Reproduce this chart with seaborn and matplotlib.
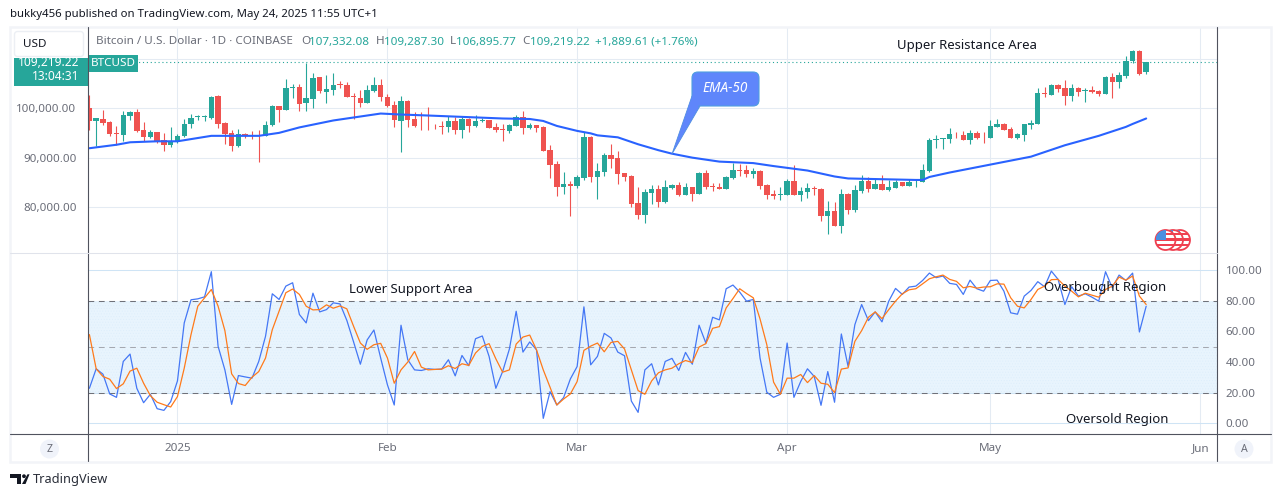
import numpy as np
import pandas as pd
import matplotlib
matplotlib.use("Agg")
import matplotlib.pyplot as plt
import seaborn as sns
from matplotlib.patches import Rectangle, Circle, FancyBboxPatch, Polygon

# ---------- data (prices in thousands of USD) ----------
first_day = "2024-12-19"
last_day = "2025-05-24"
opens = [100.0,97.3,97.8,97.2,95.0,94.6,98.5,99.3,95.6,94.1,
95.2,93.6,92.5,93.1,94.3,96.7,98.2,98.2,98.0,102.4,
97.0,95.0,92.4,94.8,94.5,94.5,94.4,96.5,100.5,99.7,
104.0,104.3,101.1,101.9,106.2,103.3,103.7,104.8,104.7,102.4,
102.1,101.1,103.4,104.7,102.2,100.7,97.4,101.5,97.8,96.6,
96.6,96.6,96.3,96.2,97.4,95.6,97.8,96.4,97.4,97.6,
96.2,95.7,95.4,96.4,98.2,96.0,96.6,96.2,91.5,88.7,
84.1,84.7,84.3,85.9,94.1,86.1,87.1,90.5,89.9,86.9,
86.3,80.8,78.4,82.8,83.6,81.0,83.8,84.5,82.4,84.1,
82.6,86.9,84.3,84.1,83.6,85.9,87.5,87.5,86.7,87.3,
84.5,82.6,82.5,82.4,85.3,82.4,83.0,83.8,83.6,78.2,
79.2,76.2,82.6,79.4,83.3,85.3,83.7,84.7,83.5,83.9,
85.1,84.3,85.2,85.1,87.4,93.5,93.7,93.8,94.8,94.6,
93.6,95.0,94.2,94.0,96.2,96.8,95.8,94.0,94.6,96.6,
96.8,103.1,102.7,104.7,104.1,102.5,104.1,103.4,103.7,103.5,
102.9,106.3,105.3,106.5,109.4,111.6,107.33]
highs = [102.7,98.0,99.7,97.4,96.4,99.4,99.5,99.8,97.2,95.6,
95.2,95.0,96.2,94.8,97.8,98.8,98.7,98.7,102.4,102.6,
97.2,95.5,95.8,95.0,95.4,95.5,97.4,100.6,100.5,105.9,
104.8,104.8,109.1,107.1,106.3,106.7,107.1,105.4,105.3,103.1,
103.7,104.7,106.3,105.9,102.8,101.5,102.5,101.7,99.3,99.3,
100.3,96.8,97.4,98.4,98.3,98.3,98.1,98.7,98.1,97.6,
96.9,96.7,96.8,98.7,99.4,96.9,96.6,96.4,92.5,89.3,
87.1,85.3,86.4,95.2,94.3,88.9,90.9,92.7,91.3,86.9,
86.4,84.1,83.6,84.5,84.5,85.5,84.7,85.1,84.9,84.1,
87.1,87.5,84.9,84.9,86.3,88.9,88.7,88.5,87.9,87.5,
84.7,83.4,84.1,85.7,88.5,84.1,84.9,84.3,83.8,81.2,
81.0,83.6,82.8,84.5,86.5,86.1,85.9,86.5,85.5,85.5,
85.1,85.7,85.5,88.8,94.0,94.6,94.0,96.0,95.2,95.4,
95.6,95.4,95.2,97.6,97.8,97.0,96.2,95.0,96.8,97.6,
104.1,104.3,104.9,104.9,105.7,104.9,104.3,104.1,104.5,103.7,
106.5,107.1,107.3,110.6,111.8,111.8,109.29]
lows = [95.6,92.3,96.5,94.3,92.5,93.4,97.6,95.1,93.3,93.9,
92.9,91.4,92.1,92.9,94.2,96.0,97.5,97.3,97.8,96.0,
92.7,91.3,92.2,93.9,93.7,89.2,94.3,96.4,97.2,99.7,
102.1,99.5,99.5,100.0,103.1,101.1,102.7,104.0,102.3,97.8,
100.2,101.1,103.3,101.5,100.3,96.2,91.2,96.2,96.1,95.6,
95.6,95.7,94.8,95.1,94.8,93.9,95.2,96.2,97.2,96.0,
95.2,93.3,95.0,96.4,94.8,95.8,95.2,91.3,85.9,82.2,
82.6,78.2,83.8,85.5,85.1,81.6,86.3,87.9,84.7,85.3,
80.0,77.6,76.8,80.6,80.0,80.8,83.6,82.2,82.4,81.2,
82.6,83.6,83.2,83.6,83.6,85.7,86.3,86.1,85.9,83.6,
81.6,81.6,81.4,82.4,82.4,81.2,81.8,82.4,77.2,74.6,
76.2,74.8,78.6,79.0,82.9,83.1,83.7,83.5,83.3,83.9,
84.3,84.3,84.1,85.1,87.1,92.0,91.8,93.0,94.0,93.6,
92.8,93.8,93.0,94.0,96.2,95.6,94.0,93.8,93.4,95.8,
96.8,102.3,102.7,103.3,100.7,101.5,102.5,101.3,103.1,102.5,
102.9,102.1,104.1,106.1,109.0,106.7,106.90]
closes = [97.3,97.9,97.0,94.8,94.7,98.6,99.3,95.4,94.1,95.2,
93.3,92.5,93.3,94.4,96.8,98.0,98.3,98.3,102.3,96.8,
94.8,92.4,94.8,94.6,94.4,94.4,96.6,100.5,99.7,104.1,
104.3,100.9,102.1,106.1,103.5,103.9,104.7,104.6,102.3,102.2,
101.1,103.7,104.7,102.2,100.5,97.5,101.5,97.6,96.4,96.5,
96.5,96.5,96.2,97.4,95.6,97.8,96.4,97.4,97.6,96.0,
95.6,95.6,96.6,98.2,96.0,96.5,96.0,91.3,88.5,84.1,
84.7,84.3,86.1,94.1,86.1,87.3,90.5,89.7,86.7,86.1,
80.6,78.4,83.0,83.6,81.0,84.1,84.5,82.4,84.1,82.6,
86.9,84.1,84.1,83.6,86.1,87.5,87.3,86.7,87.3,84.3,
82.4,82.2,82.6,85.3,82.4,83.2,83.8,83.6,78.2,79.2,
76.2,82.6,79.4,83.4,85.3,83.7,84.7,83.5,84.1,85.1,
84.3,85.1,85.3,87.6,93.6,93.8,94.0,94.8,94.7,93.6,
95.0,94.0,94.1,96.4,96.8,95.6,94.0,94.8,96.8,97.0,
103.1,102.9,104.7,103.9,102.5,104.1,103.3,103.7,103.3,102.9,
106.3,105.3,106.7,109.6,111.6,106.9,109.22]

# EMA-50 read at the days where it can be read clearly (day number from first_day)
ema_days = [0,4,6,10,13,18,22,25,28,31,36,39,43,46,50,61,65,67,69,72,74,75,78,81,84,86,89,93,98,
            101,106,110,112,122,123,124,127,133,139,144,149,153,154,156]
ema_vals = [91.9,92.6,93.1,93.3,93.3,94.4,94.4,94.4,95.0,96.1,97.5,98.1,98.9,98.7,98.5,97.9,97.8,97.4,96.4,
            95.4,94.9,94.5,94.1,92.7,91.5,90.8,90.0,89.2,88.9,88.3,87.4,86.2,85.8,85.5,85.5,86.1,87.0,88.6,
            90.2,92.5,94.4,96.2,96.8,97.9]

rsi = [22.9,35.6,32.1,19.2,17.0,40.4,45.2,22.9,13.5,19.0,
9.6,8.5,14.2,27.7,65.5,80.6,81.2,82.5,98.9,50.2,
34.9,12.4,31.2,30.3,29.5,40.4,56.8,84.5,80.8,89.5,
91.7,71.0,65.5,84.9,72.7,74.2,78.6,77.9,67.2,53.1,
38.6,54.4,60.9,42.6,25.1,12.0,64.0,41.5,34.9,34.5,
35.6,35.2,35.4,41.5,31.0,44.3,37.6,55.2,57.0,43.7,
22.9,33.8,48.5,73.1,46.5,53.1,48.0,3.3,20.7,12.0,
16.8,29.0,37.1,76.0,38.2,43.7,58.7,55.7,46.5,44.1,
14.6,7.2,34.9,38.9,25.1,40.4,42.4,34.5,46.3,38.6,
64.0,52.4,69.2,67.5,87.8,90.2,85.6,79.7,80.8,42.6,
20.3,17.0,19.0,52.4,17.0,27.3,35.6,30.6,11.8,33.8,
13.8,58.3,37.1,64.4,77.5,67.0,72.7,66.2,79.7,88.0,
84.1,88.9,89.5,93.2,98.0,95.0,96.1,91.3,90.6,84.1,
93.4,87.8,86.2,93.2,93.4,86.2,72.1,71.2,83.0,86.7,
92.4,89.1,99.3,93.9,77.5,89.1,83.0,84.5,82.3,79.7,
98.9,88.4,96.7,93.2,98.0,59.6,76.4]
rsi_ma = [57.9,35.6,30.6,28.8,22.7,25.8,34.1,36.0,26.2,18.1,
13.8,12.2,10.7,17.5,36.0,57.9,76.4,81.9,87.3,76.4,
60.5,32.3,26.0,24.7,30.1,33.8,42.6,61.1,73.1,85.2,
87.6,84.1,76.4,74.0,74.2,77.3,75.1,76.6,74.7,63.3,
52.4,48.3,51.3,52.2,42.6,26.2,34.9,40.0,46.9,36.7,
34.9,35.2,35.4,37.6,35.8,38.9,37.8,45.9,50.2,52.0,
42.1,33.4,34.9,51.7,56.3,57.6,48.0,34.9,23.6,12.0,
15.9,19.2,27.3,47.6,50.4,52.4,46.7,52.8,53.5,48.5,
34.9,21.4,19.0,27.7,33.0,34.9,36.0,38.9,41.0,39.7,
49.8,52.0,62.0,63.1,75.3,81.4,87.8,84.7,81.9,68.1,
51.3,26.9,19.0,29.5,29.5,31.9,26.6,31.2,26.2,25.5,
20.1,35.4,36.2,53.5,60.5,69.2,72.7,68.3,74.2,79.7,
84.5,87.1,87.8,91.0,94.3,95.6,96.7,93.9,92.6,88.4,
89.3,88.2,88.9,89.1,91.0,90.8,81.9,76.4,75.3,80.8,
87.3,89.5,93.7,93.9,89.5,86.2,82.5,84.9,83.6,82.3,
87.3,89.5,95.4,93.4,96.1,83.0,77.5]

price_ticks = [80, 90, 100, 110]
price_tick_labels = ["80,000.00", "90,000.00", "100,000.00", ""]
rsi_ticks = [0, 20, 40, 60, 80, 100]
rsi_tick_labels = ["0.00", "20.00", "40.00", "60.00", "80.00", "100.00"]
month_ticks = ["2025-01-01", "2025-02-01", "2025-03-01", "2025-04-01", "2025-05-01", "2025-06-01"]
month_labels = ["2025", "Feb", "Mar", "Apr", "May", "Jun"]
last_close = 109.21922

# ---------- theme ----------
sns.set_theme(style="white")
plt.rcParams["font.family"] = ["Noto Sans", "DejaVu Sans"]
plt.rcParams["hatch.linewidth"] = 0.3
W, H = 1281, 497
UP, DOWN = "#26a69a", "#ef5350"
GRID = "#e4ebf3"
AXIS = "#50535e"
GRAY = "#6a6d78"

fig = plt.figure(figsize=(W / 100, H / 100), dpi=100, facecolor="white")


def pane(x0, y_top, x1, y_bot):
    return fig.add_axes([x0 / W, 1 - y_bot / H, (x1 - x0) / W, (y_bot - y_top) / H])


dates = pd.date_range(first_day, last_day, freq="D")
day0 = dates[0]
xmin = day0 + pd.Timedelta(days=-0.28)
xmax = day0 + pd.Timedelta(days=166.5)
month_pos = pd.to_datetime(month_ticks)

ax = pane(87.5, 27, 1217.3, 253.3)
ar = pane(87.5, 253.3, 1217.3, 434.3)

# ---------- candles ----------
o, h, l, c = map(np.array, (opens, highs, lows, closes))
colors = np.where(c >= o, UP, DOWN)
ax.vlines(dates, l * 1000, h * 1000, colors=colors, linewidth=0.8, zorder=3)
ax.bar(dates, np.maximum(np.abs(c - o), 0.12) * 1000, bottom=np.minimum(o, c) * 1000,
       width=0.8, color=colors, linewidth=0, zorder=4)

ema_df = pd.DataFrame({"date": [day0 + pd.Timedelta(days=d) for d in ema_days],
                       "ema": np.array(ema_vals) * 1000})
sns.lineplot(data=ema_df, x="date", y="ema", color="#2962ff", linewidth=1.5, ax=ax, zorder=5)
ax.axhline(last_close * 1000, color=UP, linestyle=(0, (1, 2.5)), linewidth=0.8, zorder=2)
ax.set_ylim(70700, 116360)
ax.set_yticks([v * 1000 for v in price_ticks])
ax.set_yticklabels(price_tick_labels)
ax.tick_params(axis="y", length=0, pad=8, labelsize=8.3, labelcolor=GRAY)
ax.set_xticks(month_pos)
ax.set_xticklabels([])
ax.tick_params(axis="x", length=0)

# ---------- RSI ----------
ar.axhspan(20, 80, facecolor="#e8f4fd", edgecolor="#dcedfb", hatch="......", linewidth=0, zorder=1)
rsi_df = pd.DataFrame({"date": dates, "rsi": rsi, "ma": rsi_ma})
sns.lineplot(data=rsi_df, x="date", y="rsi", color="#4477f5", linewidth=0.9, ax=ar, zorder=5)
sns.lineplot(data=rsi_df, x="date", y="ma", color="#ff7a1a", linewidth=0.9, ax=ar, zorder=6)
for lv, col in ((80, "#6f7179"), (20, "#6f7179"), (50, "#a5a8b0")):
    ar.axhline(lv, color=col, linestyle=(0, (5.5, 4.5)), linewidth=0.75, zorder=3)
ar.set_ylim(-7.1, 110.9)
ar.yaxis.tick_right()
ar.set_yticks(rsi_ticks)
ar.set_yticklabels(rsi_tick_labels)
ar.tick_params(axis="y", length=0, pad=6, labelsize=8.3, labelcolor=GRAY)
ar.set_xticks(month_pos)
ar.set_xticklabels(month_labels)
ar.tick_params(axis="x", length=0, pad=6, labelsize=8.4, labelcolor=GRAY)

for a in (ax, ar):
    a.set_xlim(xmin, xmax)
    a.set_xlabel("")
    a.set_ylabel("")
    a.grid(True, color=GRID, linewidth=0.75, zorder=0)
    a.set_axisbelow(True)
    for s in a.spines.values():
        s.set_visible(False)
ar.get_yaxis().set_label_position("right")
for gl in ar.get_ygridlines():
    gl.set_color("#cfe4f5")

# ---------- overlay in pixel space ----------
ov = fig.add_axes([0, 0, 1, 1], zorder=20)
ov.set_xlim(0, W)
ov.set_ylim(H, 0)
ov.axis("off")
ov.patch.set_alpha(0)

ov.add_patch(Rectangle((10, 27), 1261, 434.5, fill=False, edgecolor="#f2f4f8", linewidth=1.8))
ov.plot([87.5, 87.5], [27, 461], color=AXIS, lw=0.8)
ov.plot([1217.3, 1217.3], [27, 461], color=AXIS, lw=0.8)
ov.plot([10, 1271], [434.3, 434.3], color=AXIS, lw=0.8)
ov.plot([10, 1217], [253.3, 253.3], color="#e0e3eb", lw=0.75)

TXT = "#131722"
ov.text(10, 15, "bukky456 published on TradingView.com, May 24, 2025 11:55 UTC+1",
        fontsize=8.2, color=TXT, va="center", ha="left")

# price tag and USD button
ov.add_patch(Rectangle((14, 58), 73.5, 28, color=UP, lw=0))
ov.text(79, 63, "109,219.22", color="white", fontsize=8.6, va="center", ha="right")
ov.text(79, 76.5, "13:04:31", color="white", fontsize=8.6, va="center", ha="right")
ov.add_patch(Rectangle((88, 55), 49.5, 17, color=UP, lw=0))
ov.text(113, 63.5, "BTCUSD", color="white", fontsize=8.4, va="center", ha="center")
ov.add_patch(FancyBboxPatch((14.5, 31.5), 69, 25, boxstyle="round,pad=0,rounding_size=3",
                            facecolor="white", edgecolor="#eceff4", linewidth=1))
ov.text(23, 44.5, "USD", color=TXT, fontsize=8.4, va="center", ha="left")

# legend row
ov.text(96, 42, "Bitcoin / U.S. Dollar · 1D · COINBASE", color=GRAY, fontsize=8.4, va="center", ha="left")
for x_, s_, col in ((301, "O", GRAY), (309.5, "107,332.08", UP), (376, "H", GRAY), (384, "109,287.30", UP),
                    (450, "L", GRAY), (456, "106,895.77", UP), (522, "C", GRAY), (530, "109,219.22", UP),
                    (595, "+1,889.61 (+1.76%)", UP)):
    ov.text(x_, 42, s_, color=col, fontsize=8.4, va="center", ha="left")

# annotations
for x_, y_, s_ in ((967, 46, "Upper Resistance Area"), (411, 289, "Lower Support Area"),
                   (1105, 288, "Overbought Region"), (1117, 420, "Oversold Region")):
    ov.text(x_, y_, s_, color=TXT, fontsize=9.5, va="center", ha="center")

# EMA callout
CALL = "#5f86fb"
ov.add_patch(Polygon([(692, 96), (672, 154), (700, 106)], closed=True, facecolor=CALL, edgecolor="#4f8fe0", lw=0.6))
ov.add_patch(FancyBboxPatch((692, 72), 67, 34, boxstyle="round,pad=0,rounding_size=6",
                            facecolor=CALL, edgecolor="#4f9fe0", linewidth=0.8))
ov.add_patch(Polygon([(693, 94), (674, 150), (699, 105)], closed=True, facecolor=CALL, edgecolor="none"))
ov.text(725.5, 88.5, "EMA-50", color="white", fontsize=9.8, style="italic", fontweight="bold", va="center", ha="center")

# flag badges
for cx in (1180, 1173, 1165.5):
    disc = Circle((cx, 240), 10, facecolor="white", edgecolor="#ef4050", linewidth=1.3)
    ov.add_patch(disc)
    for yy in (232.5, 238, 243.5):
        r = Rectangle((cx - 10, yy), 20, 2.6, color="#ef4050", lw=0)
        ov.add_patch(r)
        r.set_clip_path(disc)
    b = Rectangle((cx - 10, 230), 10, 10, color="#4a8fe0", lw=0)
    ov.add_patch(b)
    b.set_clip_path(disc)

# scale buttons
for cx, s_ in ((49.5, "Z"), (1244, "A")):
    ov.add_patch(Circle((cx, 449), 9.5, color="#f0f3fa", lw=0))
    ov.text(cx, 449.5, s_, color=GRAY, fontsize=7.6, va="center", ha="center")

# TradingView logo
ov.add_patch(Polygon([(10, 474.3), (21, 474.3), (21, 484), (16.5, 484), (16.5, 477.8), (10, 477.8)], color="#131722", lw=0))
ov.add_patch(Circle((24, 476.2), 1.9, color="#131722", lw=0))
ov.add_patch(Polygon([(22, 484), (27.5, 474.3), (29.5, 474.3), (25.5, 484)], color="#131722", lw=0))
ov.text(33, 479.5, "TradingView", color="#2a2e39", fontsize=9.2, va="center", ha="left")

fig.canvas.draw()
for lbl in ar.get_xticklabels():
    if lbl.get_text() == "2025":
        lbl.set_fontweight("bold")

fig.savefig("out.png", dpi=100, facecolor="white")
